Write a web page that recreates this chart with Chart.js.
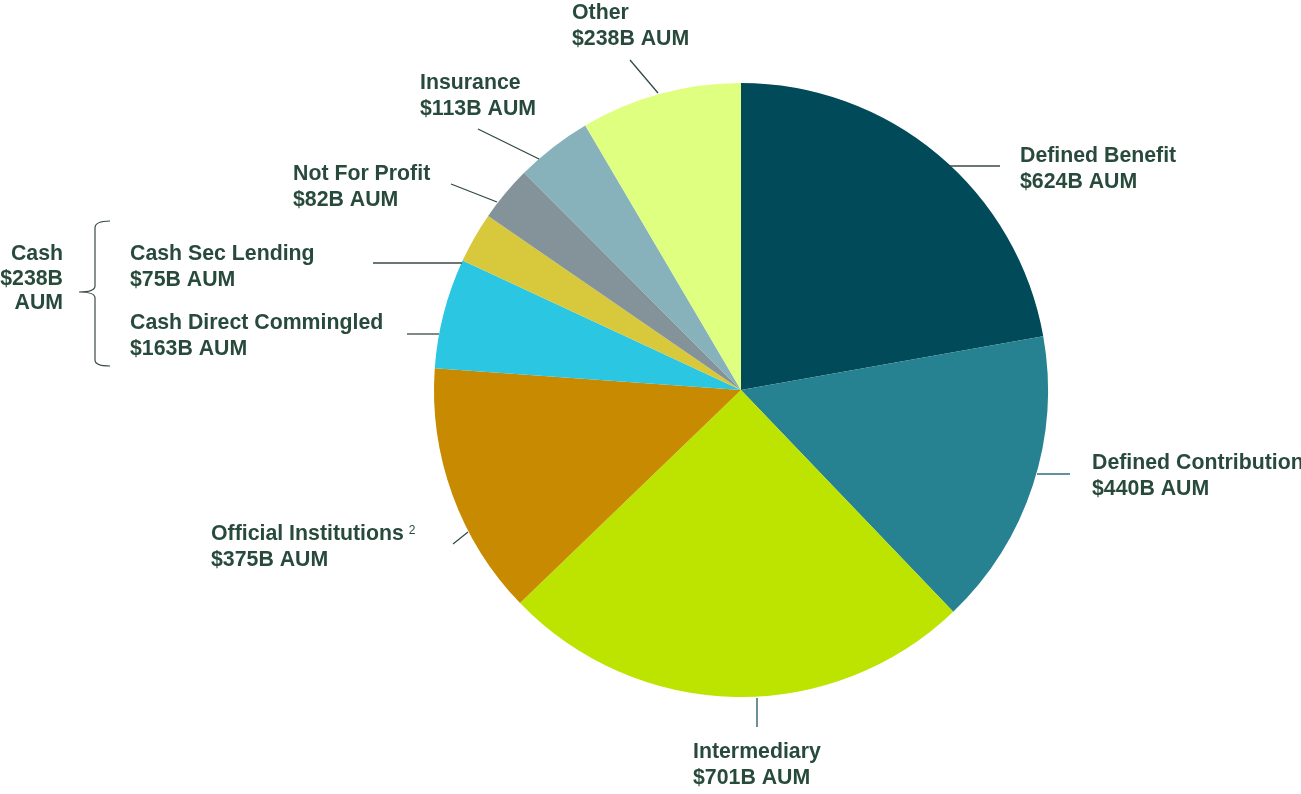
<!DOCTYPE html>
<html>
<head>
<meta charset="utf-8">
<script src="https://cdn.jsdelivr.net/npm/chart.js@4.4.1/dist/chart.umd.min.js"></script>
<style>
  html, body { margin: 0; padding: 0; background: #ffffff; }
  #wrap { position: relative; width: 1301px; height: 794px; }
</style>
</head>
<body>
<div id="wrap"><canvas id="c"></canvas></div>
<script>
// ---- Data ----
const categories = [
  "Defined Benefit",
  "Defined Contribution",
  "Intermediary",
  "Official Institutions",
  "Cash Direct Commingled",
  "Cash Sec Lending",
  "Not For Profit",
  "Insurance",
  "Other"
];
const aumValues = [624, 440, 701, 375, 163, 75, 82, 113, 238];
const sliceColors = [
  "#004A59", "#268190", "#BDE400", "#C88A00", "#2AC6E2",
  "#D8C83C", "#84939A", "#88B2BB", "#DEFF80"
];
const cashGroupLabel = ["Cash", "$238B", "AUM"];

// ---- Label layout (annotation placement only) ----
const labelLayout = [
  { x: 1020, y: 162, line: [[950, 166], [1000, 166]], lineColor: "#3a4a44" },
  { x: 1092, y: 469, line: [[1037, 474], [1070, 474]], lineColor: "#2e6f7b" },
  { x: 693,  y: 758, line: [[757, 698], [757, 727]], lineColor: "#1f5560" },
  { x: 211,  y: 540, line: [[468, 532], [453, 544]], lineColor: "#2f4a42", sup: "2" },
  { x: 130,  y: 329, line: [[439, 334], [407, 334]], lineColor: "#3a4a44" },
  { x: 130,  y: 260, line: [[462, 263], [373, 263]], lineColor: "#3a4a44" },
  { x: 293,  y: 180, line: [[497, 202], [451, 184]], lineColor: "#2f4a42" },
  { x: 420,  y: 89,  line: [[539, 159], [478, 129]], lineColor: "#2f4a42" },
  { x: 572,  y: 19,  line: [[658, 93], [630, 60]], lineColor: "#2f4a42" }
];

const TEXT_COLOR = "#284A3C";
const FONT = "bold 21.3px 'Liberation Sans', Arial, sans-serif";
const LINE_H = 26;

const labelsPlugin = {
  id: "aumLabels",
  afterDraw(chart) {
    const ctx = chart.ctx;
    ctx.save();
    // leader lines
    labelLayout.forEach((l) => {
      ctx.beginPath();
      ctx.strokeStyle = l.lineColor;
      ctx.lineWidth = 1.3;
      ctx.moveTo(l.line[0][0], l.line[0][1]);
      ctx.lineTo(l.line[1][0], l.line[1][1]);
      ctx.stroke();
    });
    // labels
    ctx.fillStyle = TEXT_COLOR;
    ctx.font = FONT;
    ctx.textAlign = "left";
    ctx.textBaseline = "alphabetic";
    categories.forEach((name, i) => {
      const l = labelLayout[i];
      ctx.font = FONT;
      ctx.fillText(name, l.x, l.y);
      if (l.sup) {
        const w = ctx.measureText(name).width;
        ctx.font = "12px 'Liberation Sans', Arial, sans-serif";
        ctx.fillText(l.sup, l.x + w + 5, l.y - 6);
        ctx.font = FONT;
      }
      ctx.fillText("$" + aumValues[i] + "B AUM", l.x, l.y + LINE_H);
    });
    // Cash group label
    ctx.textAlign = "right";
    ctx.font = FONT;
    cashGroupLabel.forEach((t, k) => {
      ctx.fillText(t, 63, 260 + k * 24.5);
    });
    // brace
    ctx.beginPath();
    ctx.strokeStyle = "#3a4a44";
    ctx.lineWidth = 1.2;
    ctx.moveTo(110, 221);
    ctx.quadraticCurveTo(95, 221, 95, 228);
    ctx.lineTo(95, 286);
    ctx.quadraticCurveTo(95, 292, 79, 292);
    ctx.quadraticCurveTo(95, 292, 95, 298);
    ctx.lineTo(95, 360);
    ctx.quadraticCurveTo(95, 366, 110, 366);
    ctx.stroke();
    ctx.restore();
  }
};

new Chart(document.getElementById("c"), {
  type: "pie",
  data: {
    labels: categories,
    datasets: [{
      data: aumValues,
      backgroundColor: sliceColors,
      borderWidth: 0,
      hoverOffset: 0
    }]
  },
  options: {
    responsive: true,
    maintainAspectRatio: false,
    animation: false,
    layout: { padding: { left: 434, right: 253, top: 83, bottom: 97 } },
    plugins: {
      legend: { display: false },
      tooltip: { enabled: false }
    }
  },
  plugins: [labelsPlugin]
});
</script>
</body>
</html>
